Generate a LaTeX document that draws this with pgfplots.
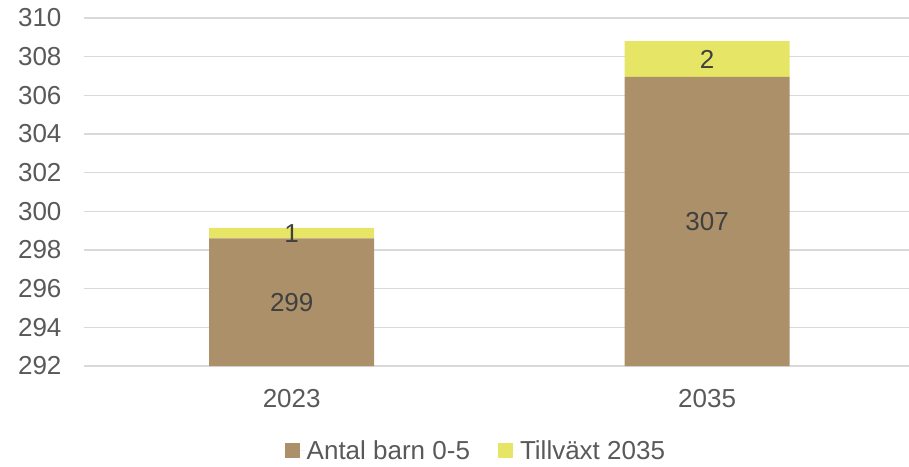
\documentclass[border=0pt]{standalone}
\usepackage{pgfplots}
\pgfplotsset{compat=1.18}
\usepackage{fontspec}
\setmainfont{Liberation Sans}
\definecolor{brun}{HTML}{AC9069}
\definecolor{gul}{HTML}{E6E566}
\definecolor{gridc}{HTML}{D9D9D9}
\definecolor{txt}{HTML}{595959}
\definecolor{lbl}{HTML}{404040}
\pgfplotsset{
  base/.style={
    scale only axis, width=825pt, height=348pt,
    xmin=-0.5, xmax=1.486,
    ymin=292, ymax=310,
  }
}
\begin{document}
\begin{tikzpicture}
\begin{axis}[
  base, name=ax,
  ybar stacked, bar width=165pt,
  ytick={292,294,...,310},
  xtick={0,1}, xticklabels={2023,2035},
  axis line style={draw=none},
  major tick length=0pt,
  ymajorgrids, grid style={gridc, line width=1.5pt},
  /pgf/number format/assume math mode=true,
  tick label style={font=\fontsize{26}{30}\selectfont, text=txt},
  yticklabel style={xshift=-19pt},
  xticklabel style={yshift=-20pt},
  legend columns=2,
  legend style={at={(0.475,-0.244)}, anchor=center, draw=none, fill=none,
    font=\fontsize{26}{30}\selectfont, text=txt,
    /tikz/every even column/.append style={column sep=26pt}},
  legend image code/.code={\fill[#1] (0pt,-7.5pt) rectangle (15pt,7.5pt);
    \path (0pt,0pt) -- (20pt,0pt);},
]
\addplot[fill=brun, draw=none] coordinates {(0,298.6) (1,306.95)};
\addplot[fill=gul, draw=none] coordinates {(0,0.55) (1,1.85)};
\legend{Antal barn 0-5, Tillväxt 2035}
\end{axis}
% segment labels, placed at the middle of each visible segment
\begin{axis}[
  base, hide axis,
  nodes near coords, point meta=explicit symbolic,
  every node near coord/.append style={anchor=center, text=lbl,
    font=\fontsize{26}{30}\selectfont},
]
\addplot[draw=none, mark=none, nodes near coords] coordinates {
  (0,295.3) [299] (1,299.475) [307] (0,298.875) [1] (1,307.875) [2]};
\end{axis}
\pgfresetboundingbox
\path (ax.south west) ++(-84pt,-100pt) rectangle ++(909pt,466pt);
\end{tikzpicture}
\end{document}
